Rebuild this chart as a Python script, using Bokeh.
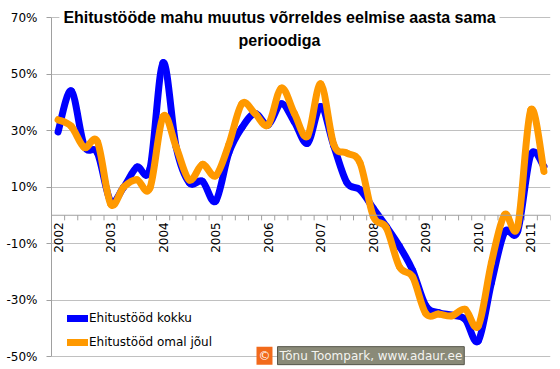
import numpy as np
from bokeh.plotting import figure
from bokeh.models import (Range1d, FixedTicker, PrintfTickFormatter, Span, Label,
                          Legend, LegendItem, ColumnDataSource)
from bokeh.core.properties import value
from bokeh.embed import file_html
from bokeh.resources import INLINE

# ---- data ----
years = ["2002", "2003", "2004", "2005", "2006", "2007", "2008", "2009", "2010", "2011"]
quarters = [f"{y} Q{q}" for y in years for q in range(1, 5)][:38]   # 2002 Q1 .. 2011 Q2

kokku = [29.5, 44, 24.5, 22, 5, 10, 17, 16.5, 54, 24,
         11.5, 12, 5, 22, 31, 36, 32, 39.5, 33, 25.5,
         38.5, 24.5, 11.5, 9, 2.5, -4, -11, -19.5, -32, -34.5,
         -35.4, -36.8, -44.5, -24, -6, -5.6, 21.4, 17.3]
omal_joul = [33.8, 31.5, 24, 26, 4, 10, 12.6, 9.7, 35, 24,
             12.5, 18, 14, 25, 39.5, 36, 32, 45, 36, 28,
             46.5, 25, 22, 18.5, -0.3, -4.5, -18.3, -21.8, -34.8, -35,
             -35.6, -33.3, -39.2, -16.8, 0.2, -3.9, 37.3, 15.5]

series_names = ["Ehitustööd kokku", "Ehitustööd omal jõul"]
series_colors = ["#0000FF", "#FF9900"]
y_ticks = [-50, -30, -10, 10, 30, 50, 70]
y_min, y_max = -50, 70

title_line1 = "Ehitustööde mahu muutus võrreldes eelmise aasta sama"
title_line2 = "perioodiga"
credit = "Tõnu Toompark, www.adaur.ee"

n = len(quarters)
xs = np.arange(n, dtype=float)

# plot frame extends past the value axis so that title and credit are not clipped
px_per_unit = 339.0 / (y_max - y_min)
top_pad = 13 / px_per_unit
bottom_pad = 12 / px_per_unit

p = figure(width=560, height=369, output_backend="svg", toolbar_location=None,
           x_range=Range1d(-0.5, n - 0.5),
           y_range=Range1d(y_min - bottom_pad, y_max + top_pad),
           x_axis_location=None, min_border_left=51, min_border_right=10,
           min_border_top=4, min_border_bottom=1)
p.title.visible = False
p.outline_line_color = None
p.background_fill_color = "white"
p.border_fill_color = "white"
p.xgrid.visible = False
p.ygrid.grid_line_color = "#C0C0C0"
p.ygrid.grid_line_width = 1

ax = p.yaxis[0]
ax.ticker = FixedTicker(ticks=y_ticks)
ax.bounds = (y_min, y_max)
ax.formatter = PrintfTickFormatter(format="%d%%")
ax.axis_line_color = "#A0A0A0"
ax.major_tick_line_color = "#A0A0A0"
ax.major_tick_out = 5
ax.major_tick_in = 0
ax.minor_tick_line_color = None
ax.major_label_standoff = 9
ax.major_label_text_font = "DejaVu Sans"
ax.major_label_text_font_size = "12px"
ax.major_label_text_color = "#000000"

# x axis at zero
p.add_layout(Span(location=0, dimension="width", line_color="#A0A0A0", line_width=1))
bounds = np.arange(n + 1) - 0.5
p.segment(x0=bounds, y0=np.zeros(n + 1), x1=bounds, y1=np.full(n + 1, -1.8),
          line_color="#A0A0A0", line_width=1)
year_pos = xs[::4]
p.text(x=year_pos, y=np.zeros(len(year_pos)), text=years, angle=np.pi / 2,
       text_align="right", text_baseline="middle", y_offset=7,
       text_font=value("DejaVu Sans"), text_font_size="12px", text_color="#000000")


def smooth_segments(x, y):
    x = np.asarray(x, float)
    y = np.asarray(y, float)
    m = len(x)
    prev_i = np.clip(np.arange(m - 1) - 1, 0, m - 1)
    next_i = np.clip(np.arange(m - 1) + 2, 0, m - 1)
    i0 = np.arange(m - 1)
    i1 = i0 + 1
    cx0 = x[i0] + (x[i1] - x[prev_i]) / 6.0
    cy0 = y[i0] + (y[i1] - y[prev_i]) / 6.0
    cx1 = x[i1] - (x[next_i] - x[i0]) / 6.0
    cy1 = y[i1] - (y[next_i] - y[i0]) / 6.0
    return dict(x0=x[i0], y0=y[i0], x1=x[i1], y1=y[i1],
                cx0=cx0, cy0=cy0, cx1=cx1, cy1=cy1)


legend_items = []
for vals, name, col in zip([kokku, omal_joul], series_names, series_colors):
    src = ColumnDataSource(smooth_segments(xs, vals))
    r = p.bezier(x0="x0", y0="y0", x1="x1", y1="y1", cx0="cx0", cy0="cy0",
                 cx1="cx1", cy1="cy1", source=src, line_color=col, line_width=7,
                 line_cap="round")
    legend_items.append(LegendItem(label=name, renderers=[r], index=0))

legend = Legend(items=legend_items, location=(16, 16), border_line_color=None,
                background_fill_alpha=0, padding=0, margin=0, spacing=4,
                glyph_width=21, glyph_height=20, label_height=20, label_standoff=1,
                label_text_font="DejaVu Sans", label_text_font_size="12px",
                label_text_color="#000000")
p.add_layout(legend)

# title
p.add_layout(Label(x=16.86, y=y_max, text=title_line1, text_align="center",
                   text_baseline="middle", text_font="Liberation Sans",
                   text_font_style="bold", text_font_size="16px",
                   text_color="#000000",
                   background_fill_color="white", padding=4))
p.add_layout(Label(x=16.86, y=61.7, text=title_line2, text_align="center",
                   text_baseline="middle", text_font="Liberation Sans",
                   text_font_style="bold", text_font_size="16px",
                   text_color="#000000"))

# credit box
p.add_layout(Label(x=16.71, y=-49.7, text=credit, text_align="left",
                   text_baseline="middle", text_font="DejaVu Sans",
                   text_font_size="12px", text_color="#F4F4F0",
                   background_fill_color="#8A8A78", border_line_color="#55554A",
                   padding=2))
p.add_layout(Label(x=15.72, y=-49.7, text="©", text_align="center",
                   text_baseline="middle", text_font="DejaVu Sans",
                   text_font_size="12px", text_color="white",
                   background_fill_color="#F26A1B", padding=2))

open("out.html", "w").write(file_html(p, INLINE))
